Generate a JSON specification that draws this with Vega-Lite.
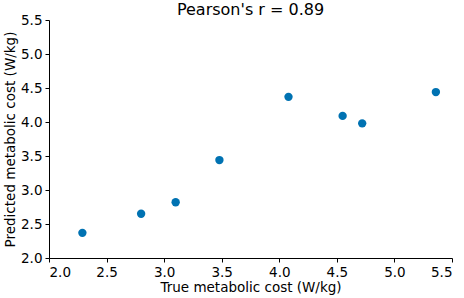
{
  "$schema": "https://vega.github.io/schema/vega-lite/v6.json",
  "width": 403,
  "height": 238,
  "autosize": "none",
  "padding": {"left": 49, "top": 20, "right": 12, "bottom": 40},
  "background": "white",
  "config": {
    "font": "DejaVu Sans",
    "view": {"stroke": null},
    "axis": {"grid": false, "domainColor": "black", "tickColor": "black", "labelColor": "black", "titleColor": "black", "labelFontSize": 13.5, "titleFontSize": 13.5, "titleFontWeight": "normal", "tickSize": 4, "domainWidth": 1}
  },
  "title": {"text": "Pearson's r = 0.89", "fontSize": 16, "fontWeight": "normal", "color": "black", "offset": -5, "font": "DejaVu Sans"},
  "data": {"values": [
    {"true": 2.29, "pred": 2.37},
    {"true": 2.80, "pred": 2.65},
    {"true": 3.10, "pred": 2.82},
    {"true": 3.48, "pred": 3.44},
    {"true": 4.08, "pred": 4.37},
    {"true": 4.55, "pred": 4.09},
    {"true": 4.72, "pred": 3.98},
    {"true": 5.36, "pred": 4.44}
  ]},
  "mark": {"type": "point", "filled": true, "shape": "circle", "size": 70, "color": "#0072B2", "opacity": 1},
  "encoding": {
    "x": {"field": "true", "type": "quantitative", "title": "True metabolic cost (W/kg)", "scale": {"domain": [2.0, 5.5], "nice": false, "zero": false}, "axis": {"values": [2.0, 2.5, 3.0, 3.5, 4.0, 4.5, 5.0, 5.5], "format": ".1f", "labelPadding": 3, "titlePadding": 2}},
    "y": {"field": "pred", "type": "quantitative", "title": "Predicted metabolic cost (W/kg)", "scale": {"domain": [2.0, 5.5], "nice": false, "zero": false}, "axis": {"values": [2.0, 2.5, 3.0, 3.5, 4.0, 4.5, 5.0, 5.5], "format": ".1f", "labelPadding": 3, "titlePadding": 3}}
  }
}
